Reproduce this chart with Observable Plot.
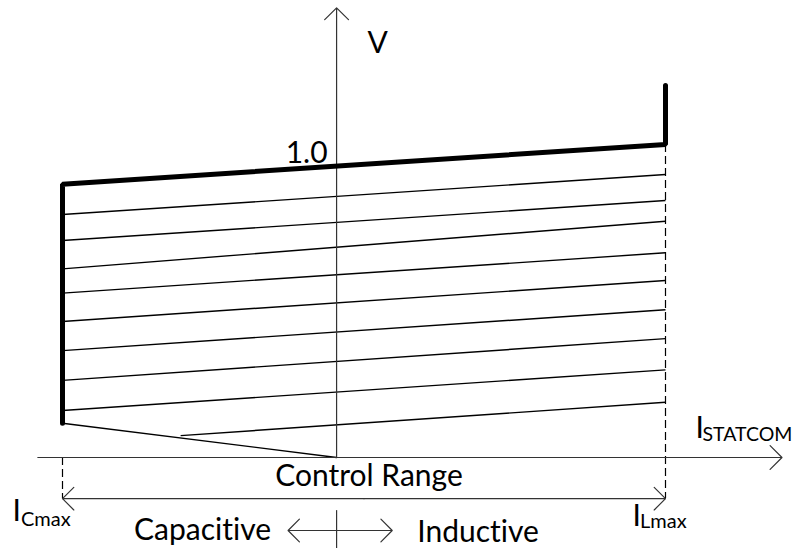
<!DOCTYPE html>
<html><head><meta charset="utf-8">
<script src="https://cdn.jsdelivr.net/npm/d3@7"></script>
<script src="https://cdn.jsdelivr.net/npm/@observablehq/plot@0.6"></script>
<style>body{margin:0;background:#fff} svg{display:block} svg text{font-variant-ligatures:none;font-feature-settings:"liga" 0,"clig" 0}</style>
</head><body><div id="chart"></div>
<script>
// ---- data (per-unit current I, per-unit voltage V) ----
const I_CMAX = -1.0;            // capacitive current limit
const I_LMAX = 1.2;             // inductive current limit
// thick V-I limit characteristic
const limitI = [1.2, 1.2, -1.0, -1.0];
const limitV = [1.274, 1.072, 0.936, 0.1175];
// thin line from bottom of capacitive limit to origin
const droopI = [-1.0, 0];
const droopV = [0.1175, 0];
// family of thin characteristic lines
const thinLeftV  = [0.832, 0.743, 0.646, 0.563, 0.466, 0.366, 0.264, 0.161];
const thinRightV = [0.969, 0.880, 0.809, 0.701, 0.606, 0.506, 0.407, 0.300, 0.189];
const lastStartI = -0.569, lastStartV = 0.075;
// axis extents
const vAxisTop = 1.54, iAxisLeft = -1.09, iAxisRight = 1.625;
const rangeV = -0.141;           // control range arrow level
const capIndV = -0.25, capTip = -0.177, indTip = 0.203;
const tickV = [-0.182, -0.33];

// ---- tables built from the arrays ----
const limitLine = limitI.map((I, k) => ({I, V: limitV[k]}));
const droopLine = droopI.map((I, k) => ({I, V: droopV[k]}));
const thinLines = thinRightV.map((v, k) => ({
  x1: k < thinLeftV.length ? I_CMAX : lastStartI,
  y1: k < thinLeftV.length ? thinLeftV[k] : lastStartV,
  x2: I_LMAX, y2: v
}));
const axisArrows = [
  {x1: 0, y1: 0, x2: 0, y2: vAxisTop},
  {x1: iAxisLeft, y1: 0, x2: iAxisRight, y2: 0}
];
const mid = (I_CMAX + I_LMAX) / 2;
const rangeArrows = [
  {x1: mid, y1: rangeV, x2: I_CMAX, y2: rangeV},
  {x1: mid, y1: rangeV, x2: I_LMAX, y2: rangeV}
];
const capIndArrows = [
  {x1: 0, y1: capIndV, x2: capTip, y2: capIndV},
  {x1: 0, y1: capIndV, x2: indTip, y2: capIndV}
];
const dashed = [
  {x: I_LMAX, y1: limitV[1], y2: rangeV},
  {x: I_CMAX, y1: 0, y2: rangeV}
];

const FONT = "Lato, 'Open Sans', sans-serif";
// label text, anchor point, pixel offset, anchor, size
const labels = [
  {t: "V", I: 0, V: 1.384, dx: 31, anchor: "start", size: 30},
  {t: "1.0", I: 0, V: 1.0, dx: -9, dy: -3, anchor: "end", size: 30},
  {t: "Control Range", I: mid, V: -0.097, dx: 5, anchor: "middle", size: 30},
  {t: "Capacitive", I: capTip, V: -0.281, dx: -17, anchor: "end", size: 30},
  {t: "Inductive", I: indTip, V: -0.288, dx: 25, anchor: "start", size: 30},
  {t: "I", I: I_CMAX, V: -0.216, dx: -50, anchor: "start", size: 30},
  {t: "I", I: I_LMAX, V: -0.233, dx: -33, anchor: "start", size: 30},
  {t: "I", I: I_LMAX, V: 0.068, dx: 30, anchor: "start", size: 30},
  {t: "Cmax", I: I_CMAX, V: -0.233, dx: -41.5, anchor: "start", size: 20},
  {t: "Lmax", I: I_LMAX, V: -0.243, dx: -25.5, anchor: "start", size: 20},
  {t: "STATCOM", I: I_LMAX, V: 0.058, dx: 37, anchor: "start", size: 19.5}
];

const chart = Plot.plot({
  width: 794, height: 548,
  margin: 0,
  x: {domain: [I_CMAX, I_LMAX], range: [62, 665], axis: null},
  y: {domain: [0, 1], range: [457, 165], axis: null},
  style: {background: "#fff", fontFamily: FONT},
  marks: [
    Plot.link(thinLines, {x1: "x1", y1: "y1", x2: "x2", y2: "y2", stroke: "#000", strokeWidth: 1.4}),
    Plot.line(droopLine, {x: "I", y: "V", stroke: "#000", strokeWidth: 1.4}),
    Plot.ruleX(dashed, {x: "x", y1: "y1", y2: "y2", stroke: "#000", strokeWidth: 1.2, strokeDasharray: "8,4"}),
    Plot.arrow(axisArrows, {x1: "x1", y1: "y1", x2: "x2", y2: "y2", stroke: "#333", strokeWidth: 1.2, headLength: 21, headAngle: 90}),
    Plot.arrow(rangeArrows, {x1: "x1", y1: "y1", x2: "x2", y2: "y2", stroke: "#333", strokeWidth: 1.2, headLength: 20, headAngle: 90}),
    Plot.arrow(capIndArrows, {x1: "x1", y1: "y1", x2: "x2", y2: "y2", stroke: "#333", strokeWidth: 1.2, headLength: 20, headAngle: 90}),
    Plot.ruleX([0], {y1: tickV[0], y2: tickV[1], stroke: "#333", strokeWidth: 1.2}),
    Plot.line(limitLine, {x: "I", y: "V", stroke: "#000", strokeWidth: 5, strokeLinejoin: "miter", strokeLinecap: "round"}),
    ...labels.map((l) => Plot.text([l], {
      x: "I", y: "V", text: "t",
      dx: l.dx, dy: l.dy || 0,
      textAnchor: l.anchor, lineAnchor: "bottom",
      fontSize: l.size, fill: "#000"
    }))
  ]
});
document.getElementById("chart").appendChild(chart);
</script>
</body></html>
